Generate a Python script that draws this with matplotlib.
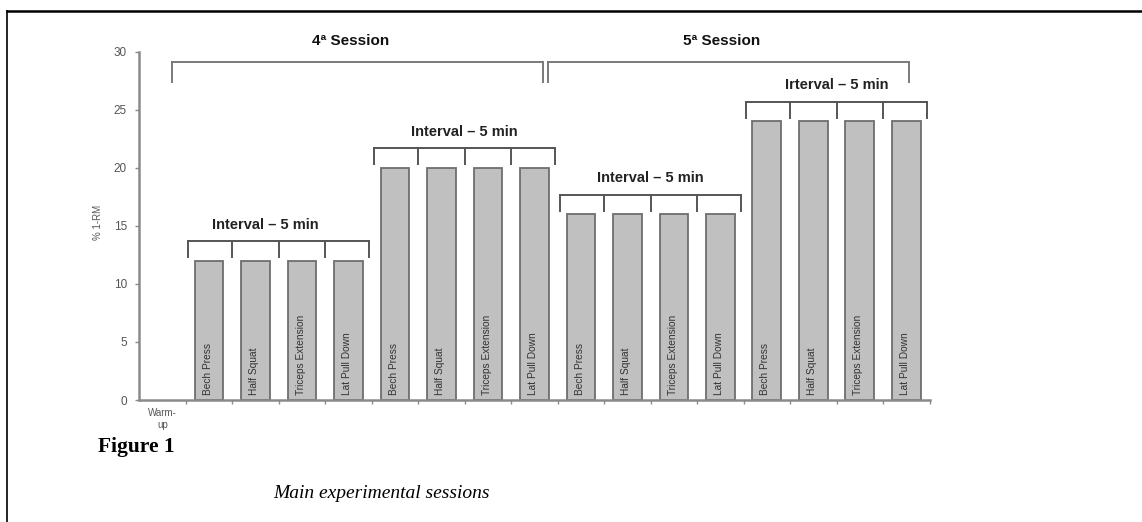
import matplotlib
matplotlib.use("Agg")
import matplotlib.pyplot as plt
from matplotlib import font_manager
from matplotlib.lines import Line2D

# bars: warm-up (empty) + 4 blocks of 4 exercises
exercises = ["Bech Press", "Half Squat", "Triceps Extension", "Lat Pull Down"]
categories = ["Warm-\nup"] + exercises * 4
values = [0, 12, 12, 12, 12, 20, 20, 20, 20, 16, 16, 16, 16, 24, 24, 24, 24]

# interval brackets (first and last bar index of each block)
interval_groups = [(1, 4), (5, 8), (9, 12), (13, 16)]
interval_labels = ["Interval \u2013 5 min", "Interval \u2013 5 min",
                   "Interval \u2013 5 min", "Irterval \u2013 5 min"]

# session brackets (x extent in category units)
session_labels = ["4\u00aa Session", "5\u00aa Session"]
session_spans = [(0.2, 8.18), (8.29, 16.05)]

AXIS_GRAY = "#8a8a8a"
BRACKET = "#555555"

names = {f.name for f in font_manager.fontManager.ttflist}
SANS = "Liberation Sans" if "Liberation Sans" in names else "DejaVu Sans"
if "Liberation Sans Narrow" in names:
    NARROW, NARROW_SIZE = "Liberation Sans Narrow", 8.6
else:
    NARROW, NARROW_SIZE = SANS, 7.3
SERIF = "Liberation Serif" if "Liberation Serif" in names else "DejaVu Serif"

fig = plt.figure(figsize=(11.42, 5.22), dpi=100)
ax = fig.add_axes([0.122, 0.2337, 0.692, 0.667])

x = list(range(len(categories)))
bars = ax.bar(x, values, width=0.62, color="#c0c0c0", edgecolor="#6e6e6e",
              linewidth=1.3, zorder=2)
for patch, v in zip(bars, values):
    if v == 0:
        patch.set_visible(False)

for i, (lab, v) in enumerate(zip(categories, values)):
    if v > 0:
        ax.text(i - 0.03, 0.45, lab, rotation=90, ha="center", va="bottom",
                family=NARROW, fontsize=NARROW_SIZE, color="#333333", zorder=3)

ax.set_xlim(-0.5, len(categories) - 0.5)
ax.set_ylim(0, 30)
ax.set_yticks([0, 5, 10, 15, 20, 25, 30])
ax.set_xticks([k + 0.5 for k in range(len(categories))])
ax.set_xticklabels([])
ax.tick_params(axis="y", direction="out", length=3, width=1, color=AXIS_GRAY,
               labelsize=8.5, labelcolor="#555555", pad=6)
ax.tick_params(axis="x", direction="out", length=3, width=1, color=AXIS_GRAY)
for lab in ax.get_yticklabels():
    lab.set_family(SANS)
for s in ("top", "right"):
    ax.spines[s].set_visible(False)
for s in ("left", "bottom"):
    ax.spines[s].set_color(AXIS_GRAY)
    ax.spines[s].set_linewidth(1.8)

ax.text(0, -0.7, categories[0], ha="center", va="top", family=SANS,
        fontsize=7, color="#555555", linespacing=1.25)
ax.set_ylabel("% 1-RM", family=SANS, fontsize=7, color="#555555")
ax.yaxis.set_label_coords(-0.046, 0.51)

# interval brackets
for (a, b), lab in zip(interval_groups, interval_labels):
    v = values[a]
    top, foot = v + 1.7, v + 0.3
    left, right = a - 0.45, b + 0.45
    ax.plot([left, right], [top, top], color=BRACKET, lw=1.4, zorder=4)
    ticks = [left] + [k + 0.5 for k in range(a, b)] + [right]
    for t in ticks:
        ax.plot([t, t], [foot, top], color=BRACKET, lw=1.4, zorder=4)
    shift = -0.3 if a == 1 else 0.0
    ax.text((left + right) / 2 + shift, v + 3.1, lab, ha="center",
            va="center", family=SANS, fontsize=10.5, fontweight="bold",
            color="#222222")

# session brackets
for (left, right), lab in zip(session_spans, session_labels):
    ax.plot([left, right], [29.1, 29.1], color="#7a7a7a", lw=1.4,
            clip_on=False, zorder=4)
    for t in (left, right):
        ax.plot([t, t], [27.4, 29.1], color="#7a7a7a", lw=1.4,
                clip_on=False, zorder=4)
    ax.text((left + right) / 2 - 0.15, 30.9, lab, ha="center", va="center",
            family=SANS, fontsize=11, fontweight="bold", color="#111111",
            clip_on=False)

# page frame (top and left rule)
fig.add_artist(Line2D([7 / 1142, 1.0], [1 - 10.5 / 522] * 2,
                      transform=fig.transFigure, color="black", lw=1.8))
fig.add_artist(Line2D([7 / 1142] * 2, [0.0, 1 - 10.5 / 522],
                      transform=fig.transFigure, color="black", lw=1.2))

fig.text(98 / 1142, 1 - 447 / 522, "Figure 1", family=SERIF, fontsize=15.5,
         fontweight="bold", ha="left", va="center")
fig.text(273 / 1142, 1 - 494 / 522, "Main experimental sessions",
         family=SERIF, fontsize=14, style="italic", ha="left", va="center")

fig.savefig("out.png", dpi=100)
